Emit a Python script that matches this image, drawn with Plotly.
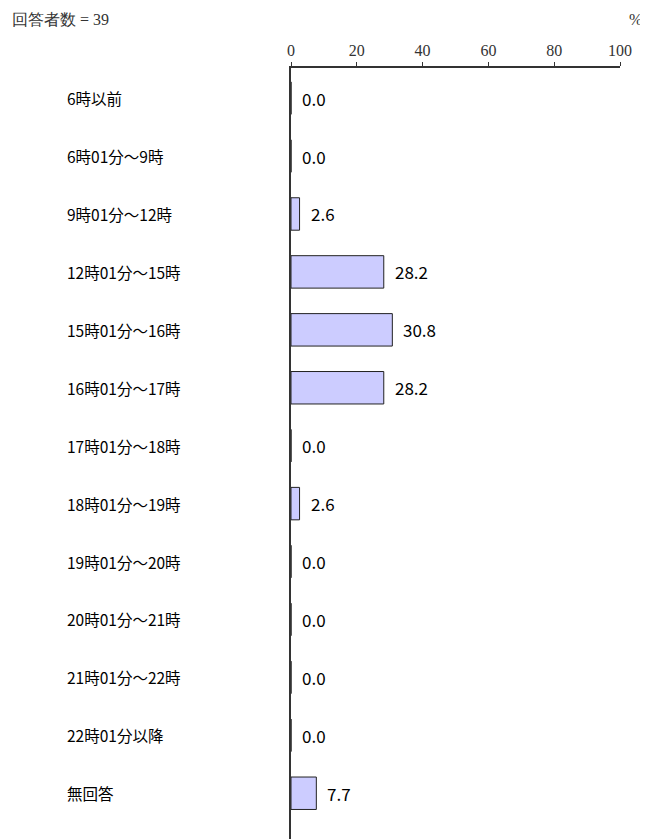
import plotly.graph_objects as go

categories = ["6時以前", "6時01分～9時", "9時01分～12時", "12時01分～15時", "15時01分～16時",
              "16時01分～17時", "17時01分～18時", "18時01分～19時", "19時01分～20時",
              "20時01分～21時", "21時01分～22時", "22時01分以降", "無回答"]
values = [0.0, 0.0, 2.6, 28.2, 30.8, 28.2, 0.0, 2.6, 0.0, 0.0, 0.0, 0.0, 7.7]
tick_vals = [0, 20, 40, 60, 80, 100]
respondents = 39

sans = "Noto Sans CJK JP"
serif = "Liberation Serif"

# page body has an 8px margin, so the figure is drawn offset by 8px
OFF = 8
X0, X1 = 291, 620          # pixel position of 0 and 100 in the page
plot_w = X1 - X0

fig = go.Figure()
fig.add_trace(go.Bar(
    x=values, y=list(range(len(categories))), orientation="h",
    marker=dict(color="#ccccff", line=dict(color="#222222", width=1)),
    width=0.56, hoverinfo="skip",
))

annotations = []
for i, (c, v) in enumerate(zip(categories, values)):
    annotations.append(dict(x=(65 - X0) / plot_w, xref="paper", y=i, yref="y", text=c,
                            showarrow=False, xanchor="left", yanchor="middle",
                            font=dict(family=sans, size=15.5, color="#000")))
    annotations.append(dict(x=v, xref="x", y=i, yref="y", text=f"{v:.1f}", showarrow=False,
                            xanchor="left", yanchor="middle", xshift=9,
                            font=dict(family=sans, size=17, color="#000")))
annotations.append(dict(x=(10 - X0) / plot_w, xref="paper", xanchor="left",
                        y=1.0, yref="paper", yanchor="bottom", yshift=38,
                        text=f"回答者数 = {respondents}", showarrow=False,
                        font=dict(family=serif, size=16, color="#333")))
annotations.append(dict(x=1.0, xref="paper", xanchor="left", xshift=7,
                        y=1.0, yref="paper", yanchor="bottom", yshift=38,
                        text="%", showarrow=False,
                        font=dict(family=serif, size=16, color="#333")))

fig.update_layout(
    width=648 - OFF, height=839 - OFF,
    margin=dict(l=X0 - OFF, r=648 - X1, t=68 - OFF, b=0),
    plot_bgcolor="white", paper_bgcolor="white",
    showlegend=False,
    annotations=annotations,
    xaxis=dict(range=[0, 100], side="top", tickvals=tick_vals, ticks="outside", ticklen=4,
               tickcolor="#333", showline=True, linecolor="#333", linewidth=1.5,
               showgrid=False, zeroline=False,
               tickfont=dict(family=serif, size=16, color="#333")),
    yaxis=dict(range=[12.79, -0.52], showticklabels=False, showline=True, linecolor="#333",
               linewidth=1.5, showgrid=False, zeroline=False, ticks=""),
)

fig.write_html("out.html")
